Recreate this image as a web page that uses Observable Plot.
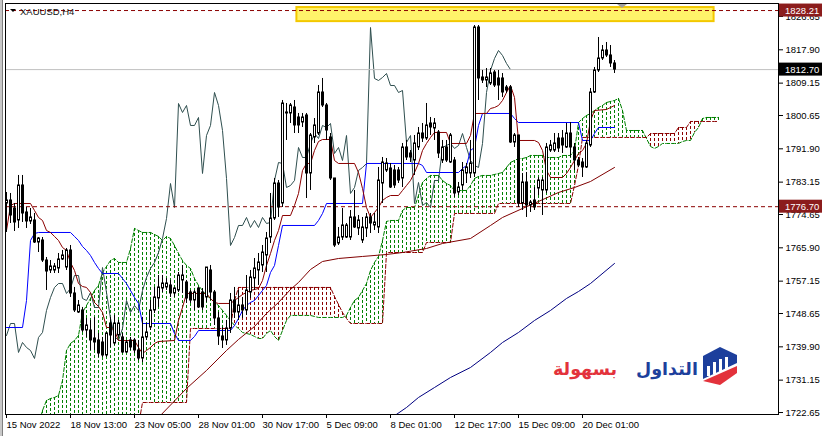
<!DOCTYPE html>
<html><head><meta charset="utf-8">
<script src="https://cdn.jsdelivr.net/npm/d3@7"></script>
<script src="https://cdn.jsdelivr.net/npm/@observablehq/plot@0.6"></script>
<style>
html,body{margin:0;padding:0;background:#fff;}
#wrap{position:relative;width:827px;height:436px;overflow:hidden;background:#fff;}
</style></head><body><div id="wrap"></div>
<script>
// ---- XAUUSD H4 candles (bar index 0..152) ----
const opens = [1777.54,1778.33,1776.23,1773.08,1782.27,1775.18,1772.82,1773.08,1767.30,1767.83,
1762.57,1759.95,1759.95,1760.47,1762.84,1760.73,1765.20,1753.91,1748.92,1749.45,
1744.19,1744.19,1742.09,1741.57,1741.04,1737.63,1746.03,1740.78,1742.88,1742.36,
1738.42,1741.57,1741.57,1738.94,1736.84,1742.36,1744.98,1749.45,1752.60,1755.22,
1755.49,1756.01,1753.91,1754.70,1757.32,1756.80,1754.17,1752.07,1755.22,1754.17,
1752.86,1759.95,1754.17,1747.35,1742.62,1741.57,1744.72,1752.07,1748.92,1750.76,
1749.45,1754.17,1757.85,1759.95,1761.26,1763.89,1768.61,1773.60,1782.79,1777.54,
1801.18,1801.18,1802.75,1800.13,1798.81,1800.65,1785.42,1794.88,1795.92,1806.69,
1803.28,1794.88,1784.11,1767.04,1768.61,1768.61,1768.61,1773.87,1770.98,1767.83,
1770.98,1773.87,1771.77,1771.24,1782.79,1786.21,1786.73,1786.21,1786.21,1784.11,
1792.25,1790.67,1788.83,1792.25,1795.92,1794.61,1798.55,1797.24,1796.19,1788.83,
1792.25,1788.31,1788.83,1780.43,1782.27,1785.42,1785.42,1785.42,1823.76,1810.63,
1809.84,1809.05,1811.94,1810.37,1810.37,1808.00,1808.00,1793.56,1795.40,1777.54,
1783.06,1777.02,1778.33,1781.48,1780.96,1780.96,1791.46,1791.46,1794.61,1794.61,
1792.25,1795.92,1792.25,1788.83,1788.31,1787.00,1792.77,1806.69,1812.47,1815.62,
1817.72,1816.41,1814.31];
const highs = [1780.43,1780.17,1777.54,1784.90,1784.90,1776.49,1776.23,1774.92,1768.61,1768.61,
1763.36,1762.57,1761.79,1764.41,1765.20,1765.72,1766.51,1755.49,1752.07,1750.24,
1747.35,1746.82,1747.61,1743.41,1742.36,1743.67,1747.61,1748.14,1746.82,1743.41,
1741.57,1742.36,1742.09,1741.57,1747.61,1746.03,1752.07,1755.49,1758.63,1758.63,
1757.85,1757.32,1755.49,1759.42,1761.26,1757.32,1754.70,1754.70,1755.49,1755.22,
1760.73,1761.26,1754.70,1748.92,1744.98,1746.82,1753.91,1755.49,1754.70,1752.86,
1758.63,1759.95,1763.10,1764.41,1766.51,1769.93,1780.17,1784.11,1783.58,1804.59,
1803.80,1803.80,1804.59,1801.18,1801.18,1801.18,1795.92,1799.86,1808.53,1810.37,
1803.80,1795.92,1784.11,1771.24,1776.23,1772.29,1775.70,1780.96,1774.39,1773.87,
1774.92,1774.92,1774.92,1787.00,1789.62,1789.36,1788.05,1787.52,1787.00,1793.30,
1794.09,1791.46,1795.40,1797.50,1798.55,1803.80,1800.13,1799.86,1796.71,1794.09,
1794.09,1795.92,1789.62,1783.06,1788.31,1788.05,1794.09,1824.28,1824.28,1812.47,
1812.99,1812.99,1812.47,1812.47,1811.68,1808.53,1808.53,1795.92,1795.40,1785.42,
1785.68,1778.33,1781.74,1784.37,1784.37,1793.30,1794.09,1795.92,1795.92,1796.71,
1798.55,1798.81,1793.30,1789.62,1789.36,1794.09,1807.74,1813.26,1821.13,1819.03,
1819.82,1819.03,1815.09];
const lows = [1769.93,1772.29,1770.19,1770.98,1772.55,1770.98,1772.03,1767.04,1764.67,1762.05,
1754.70,1759.16,1759.16,1759.16,1762.57,1759.95,1752.86,1748.92,1748.66,1743.67,
1742.36,1738.94,1738.94,1737.10,1737.10,1737.10,1739.73,1740.26,1742.36,1738.15,
1738.15,1738.94,1738.15,1736.31,1735.79,1741.57,1744.19,1748.66,1750.24,1754.17,
1754.70,1752.86,1752.86,1754.17,1753.91,1751.29,1751.29,1749.45,1749.97,1749.45,
1751.55,1752.07,1745.51,1740.26,1739.47,1740.26,1743.41,1747.35,1746.82,1747.35,
1748.14,1752.60,1754.70,1756.01,1759.42,1759.42,1767.04,1773.08,1773.87,1776.49,
1794.09,1798.55,1795.92,1795.92,1797.50,1778.85,1780.96,1793.30,1795.40,1802.75,
1794.09,1783.58,1765.99,1766.51,1767.83,1768.35,1767.83,1770.98,1769.14,1767.04,
1768.61,1769.66,1770.45,1769.66,1777.54,1785.68,1781.48,1781.48,1782.79,1781.74,
1788.83,1788.31,1784.90,1791.46,1793.56,1794.09,1795.40,1794.09,1789.36,1788.05,
1788.31,1788.05,1779.12,1779.64,1780.96,1782.79,1784.11,1784.37,1804.59,1809.05,
1808.00,1808.53,1808.00,1804.59,1805.38,1806.43,1793.30,1792.25,1776.49,1775.70,
1773.87,1775.18,1775.70,1779.64,1774.39,1780.17,1790.94,1790.94,1790.94,1790.67,
1791.99,1789.62,1786.21,1787.00,1784.37,1786.73,1792.25,1806.43,1811.94,1815.09,
1815.88,1813.26,1811.68];
const closes = [1778.33,1774.39,1772.55,1782.27,1774.92,1772.82,1773.87,1767.30,1768.35,1762.57,
1759.68,1761.00,1761.00,1762.84,1763.89,1765.20,1753.91,1749.45,1750.76,1744.19,
1745.51,1741.57,1741.04,1738.15,1737.63,1743.41,1742.88,1746.03,1746.03,1738.42,
1741.04,1739.73,1738.94,1736.84,1742.36,1743.67,1749.45,1752.86,1755.49,1756.53,
1756.53,1753.91,1755.22,1758.63,1758.63,1752.60,1752.07,1754.17,1750.24,1750.24,
1760.73,1754.17,1747.35,1742.62,1741.57,1744.72,1752.07,1748.92,1750.76,1749.45,
1754.70,1758.11,1760.47,1762.05,1764.67,1768.35,1773.60,1782.79,1776.49,1803.80,
1801.44,1803.28,1798.03,1798.03,1800.13,1785.42,1795.40,1798.03,1806.69,1803.28,
1796.71,1784.11,1766.51,1768.61,1771.77,1771.77,1773.87,1771.24,1773.08,1771.24,
1773.87,1772.29,1772.55,1783.58,1788.31,1788.05,1781.74,1782.27,1783.58,1792.25,
1789.62,1789.62,1793.30,1795.92,1794.61,1798.03,1797.50,1798.55,1790.67,1792.25,
1788.83,1795.40,1780.17,1781.74,1786.21,1787.00,1788.05,1823.76,1810.37,1809.84,
1810.63,1811.68,1808.53,1808.53,1806.69,1807.22,1793.56,1795.40,1777.54,1783.06,
1777.02,1777.80,1776.49,1783.58,1783.58,1792.25,1792.77,1793.30,1791.99,1792.77,
1795.92,1792.25,1788.83,1787.52,1787.00,1793.30,1806.69,1812.47,1815.62,1817.72,
1816.41,1814.31,1812.70];

// ---- Ichimoku: Senkou span A / B per bar (0..178, shifted 26 ahead) ----
const senkouA = [1719.24,1719.24,1719.24,1719.24,1719.24,1719.24,1719.24,1719.24,1719.24,1723.18,
1725.81,1726.33,1726.60,1727.12,1731.06,1738.94,1740.78,1741.57,1742.88,1748.92,
1750.76,1752.60,1754.70,1756.01,1759.42,1761.00,1762.57,1763.10,1762.05,1762.05,
1762.05,1765.72,1770.98,1770.45,1769.93,1769.93,1769.93,1769.40,1768.88,1767.83,
1768.88,1768.35,1766.51,1764.41,1762.57,1761.26,1760.47,1757.85,1756.01,1754.70,
1753.38,1752.60,1751.55,1750.76,1749.45,1748.14,1746.82,1745.51,1744.72,1743.67,
1743.41,1743.14,1742.62,1742.09,1742.09,1743.41,1744.19,1742.62,1741.57,1744.19,
1746.82,1748.14,1748.14,1748.14,1748.14,1748.14,1748.14,1747.87,1747.61,1747.61,
1747.61,1747.61,1747.61,1747.61,1747.61,1748.14,1750.24,1752.07,1752.86,1754.70,
1756.53,1759.95,1762.05,1763.63,1767.83,1772.82,1773.08,1773.08,1773.08,1775.70,
1776.49,1776.49,1776.49,1779.64,1783.06,1784.11,1784.90,1784.90,1784.90,1783.58,
1782.79,1782.27,1780.96,1780.96,1780.96,1780.96,1782.27,1784.11,1784.63,1784.90,
1784.90,1784.90,1785.16,1785.42,1785.68,1787.00,1788.31,1788.83,1789.36,1789.36,
1789.62,1790.15,1790.15,1790.15,1790.15,1789.62,1789.62,1789.62,1789.62,1790.15,
1790.15,1790.15,1791.46,1798.81,1799.86,1800.65,1801.18,1801.96,1802.75,1803.28,
1804.06,1804.33,1804.59,1805.12,1801.96,1796.71,1796.71,1796.71,1796.71,1796.71,
1794.61,1792.51,1791.99,1792.51,1793.30,1793.30,1793.30,1793.30,1793.30,1793.82,
1794.09,1794.09,1796.19,1797.50,1799.86,1800.13,1800.13,1800.13,1800.13];
const senkouB = [1719.24,1719.24,1719.24,1719.24,1719.24,1719.24,1719.24,1719.24,1719.24,1719.24,
1719.24,1719.24,1719.24,1719.24,1719.24,1719.24,1719.24,1719.24,1719.24,1719.24,
1719.24,1719.24,1719.24,1719.24,1719.24,1719.24,1719.24,1719.24,1719.24,1719.24,
1719.24,1719.24,1719.24,1719.24,1725.28,1725.28,1725.28,1725.28,1725.28,1725.28,
1725.28,1725.28,1725.28,1725.28,1725.28,1725.28,1744.72,1744.72,1744.72,1744.72,
1744.72,1744.72,1744.72,1744.72,1744.72,1744.72,1744.72,1752.07,1755.49,1755.49,
1755.49,1755.49,1755.49,1755.49,1755.49,1755.49,1755.49,1755.49,1755.49,1755.49,
1755.49,1755.49,1755.49,1755.49,1755.49,1755.49,1755.49,1755.49,1755.49,1755.49,
1755.49,1755.49,1753.12,1751.02,1748.92,1747.35,1746.03,1746.03,1746.03,1746.03,
1746.03,1746.03,1746.03,1746.03,1746.03,1764.67,1764.67,1764.67,1764.67,1764.67,
1764.67,1764.67,1764.67,1764.67,1764.67,1767.30,1767.30,1767.30,1767.30,1767.30,
1767.30,1767.30,1774.92,1774.92,1774.92,1774.92,1774.92,1774.92,1774.92,1774.92,
1774.92,1774.92,1774.92,1777.54,1777.54,1777.54,1777.54,1777.54,1777.54,1777.54,
1777.54,1777.54,1777.54,1777.54,1777.54,1777.54,1777.54,1777.54,1777.54,1777.54,
1777.54,1777.54,1782.27,1787.52,1794.88,1794.88,1794.88,1794.88,1794.88,1794.88,
1794.88,1794.88,1794.88,1794.88,1794.88,1794.88,1794.88,1794.88,1794.88,1794.88,
1794.88,1795.92,1795.92,1795.92,1795.92,1795.92,1795.92,1795.92,1797.50,1797.50,
1797.50,1799.08,1799.08,1799.08,1799.08,1799.08,1799.08,1799.08,1799.08];

// ---- Tenkan-sen / Kijun-sen (bar index, price) ----
const tenkanAt  = [0,1,2,6,7,8,9,10,11,12,13,14,15,16,17,18,19,20,21,22,23,24,25,26,27,28,32,33,34,35,36,37,38,42,43,44,45,50,51,52,53,56,57,58,59,60,61,62,63,64,65,66,67,68,69,71,72,73,74,75,76,77,78,79,81,82,83,87,88,89,90,91,92,93,94,95,96,98,99,100,101,102,103,104,105,106,107,110,111,115,116,117,120,121,122,123,124,125,126,127,128,132,133,134,135,136,139,140,141,142,143,144,145,146,147,150,151,152];
const tenkanVal = [1770.45,1777.02,1777.54,1777.54,1775.70,1773.87,1773.08,1770.45,1769.93,1768.88,1767.83,1765.99,1765.20,1762.05,1759.95,1756.53,1755.75,1755.49,1754.17,1751.55,1750.49,1748.92,1744.98,1744.98,1744.19,1741.57,1741.57,1739.73,1738.15,1738.94,1739.73,1740.78,1741.30,1741.57,1746.82,1750.24,1753.91,1753.91,1752.60,1751.55,1751.29,1751.29,1752.07,1752.86,1753.65,1754.17,1754.70,1754.96,1755.22,1757.32,1761.26,1764.41,1767.83,1770.45,1774.39,1774.39,1777.02,1780.17,1786.21,1788.05,1788.05,1791.46,1793.82,1794.35,1794.35,1788.83,1788.05,1788.05,1785.68,1781.48,1776.49,1773.87,1775.18,1776.49,1778.33,1779.12,1779.64,1779.64,1780.96,1782.27,1783.58,1785.68,1788.05,1791.46,1793.30,1794.88,1796.19,1796.19,1793.30,1793.30,1795.40,1801.18,1801.18,1802.49,1802.75,1803.28,1804.59,1806.69,1808.53,1805.38,1794.09,1794.09,1793.56,1791.46,1786.21,1784.37,1784.37,1785.42,1787.00,1788.83,1790.67,1791.46,1793.30,1799.34,1801.96,1802.23,1802.75,1803.28];
const kijunAt  = [0,4,5,6,7,8,16,17,18,19,20,21,22,23,24,28,29,30,31,32,33,34,41,42,43,46,47,48,56,57,58,59,60,61,62,63,64,65,66,67,68,69,77,78,79,80,89,90,103,104,105,113,114,115,116,117,118,119,126,127,128,143,144,146,147,148,152];
const kijunVal = [1744.98,1744.98,1752.07,1767.83,1769.66,1769.93,1769.93,1768.88,1767.83,1766.25,1765.20,1763.89,1762.05,1760.47,1759.16,1759.16,1757.85,1756.53,1754.70,1752.86,1751.29,1746.03,1746.03,1743.41,1741.57,1741.57,1742.62,1744.19,1744.19,1745.51,1747.35,1749.45,1750.76,1751.55,1752.07,1753.38,1754.70,1756.01,1759.42,1761.26,1766.51,1771.77,1771.77,1773.08,1774.92,1777.54,1777.54,1788.05,1788.05,1787.52,1785.68,1785.68,1786.73,1787.52,1791.46,1792.25,1798.03,1801.18,1801.18,1799.86,1798.81,1798.81,1794.09,1794.09,1795.92,1797.50,1797.50];

// ---- Moving averages (bar index, price) ----
const maSlowAt  = [36,38,45,50,55,58,62,65,68,71,73,76,79,83,89,95,99,105,109,116,121,124,129,133,138,142,146,152];
const maSlowVal = [1718.46,1721.35,1728.96,1733.69,1738.94,1741.83,1745.24,1748.66,1751.55,1754.96,1756.80,1760.21,1762.31,1763.10,1763.63,1764.15,1764.67,1765.72,1767.04,1768.35,1771.77,1773.87,1776.23,1778.07,1780.43,1781.74,1783.32,1787.00];
const maNavyAt  = [96,100,103,107,111,116,121,124,128,132,136,140,143,146,152];
const maNavyVal = [1721.08,1723.97,1726.60,1729.22,1731.85,1734.48,1738.42,1741.04,1743.67,1746.82,1749.45,1752.60,1754.43,1756.53,1761.79];

// ---- Price levels, box, axes ----
const levelRed = [1828.21, 1776.70];
const levelBid = [1812.70];
const rectBox = [{x1: 72.6, x2: 176.9, y1: 1825.3, y2: 1829.0}];
const yTicks = [1826.65,1817.90,1809.15,1800.65,1791.90,1783.15,1774.65,1765.90,1757.15,1748.65,1739.90,1731.15,1722.65];
const xTickAt = [0,16,32,48,64,80,96,112,128,144];
const xLabels = ["15 Nov 2022","18 Nov 13:00","23 Nov 05:00","28 Nov 01:00","30 Nov 17:00","5 Dec 09:00","8 Dec 01:00","12 Dec 17:00","15 Dec 09:00","20 Dec 01:00"];
const priceTags = [{v:1828.21, bg:"#8b1c1c"},{v:1812.70, bg:"#000000"},{v:1776.70, bg:"#8b1c1c"}];
const SHIFT = 26;

// ---- build tables ----
const bars = opens.map((o, i) => ({i, o, h: highs[i], l: lows[i], c: closes[i]}));
const upBars = bars.filter(d => d.c >= d.o), dnBars = bars.filter(d => d.c < d.o);
const cloud = senkouA.map((a, i) => ({i, a, b: senkouB[i]}));
const chikou = closes.slice(SHIFT).map((c, i) => ({i, v: c}));
const pts = (at, val) => at.map((i, k) => ({i, v: val[k]}));

const GREEN = "#008000", RED = "#8b0000";
const FONT = "'Liberation Sans', Arial, sans-serif";
const chart = Plot.plot({
  width: 827, height: 436,
  marginLeft: 5, marginRight: 49, marginTop: 3, marginBottom: 22,
  x: {domain: [-0.25, 193.0], axis: null},
  y: {domain: [1722.13, 1830.06], axis: null},
  style: {fontFamily: FONT, fontSize: "9.5px", background: "#fff", color: "#000", overflow: "visible"},
  marks: [
    Plot.rect(rectBox, {x1: "x1", x2: "x2", y1: "y1", y2: "y2", fill: "#fff36a", stroke: "#f3c800", strokeWidth: 2}),
    Plot.ruleX(cloud.filter(d => d.a >= d.b), {x: "i", y1: "a", y2: "b", stroke: GREEN, strokeWidth: 1, strokeDasharray: "3,2", clip: true}),
    Plot.ruleX(cloud.filter(d => d.a < d.b), {x: "i", y1: "b", y2: "a", stroke: RED, strokeWidth: 1, strokeDasharray: "3,2", clip: true}),
    Plot.line(cloud, {x: "i", y: "a", stroke: GREEN, strokeWidth: 1, strokeDasharray: "4,2", clip: true}),
    Plot.line(cloud, {x: "i", y: "b", stroke: RED, strokeWidth: 1, strokeDasharray: "4,2", clip: true}),
    Plot.line(pts(maSlowAt, maSlowVal), {x: "i", y: "v", stroke: "#800000", strokeWidth: 1, clip: true}),
    Plot.line(pts(maNavyAt, maNavyVal), {x: "i", y: "v", stroke: "#000080", strokeWidth: 1, clip: true}),
    Plot.line(chikou, {x: "i", y: "v", stroke: "#2f4f4f", strokeWidth: 1}),
    Plot.line(pts(kijunAt, kijunVal), {x: "i", y: "v", stroke: "#0000ff", strokeWidth: 1}),
    Plot.line(pts(tenkanAt, tenkanVal), {x: "i", y: "v", stroke: "#8b0000", strokeWidth: 1}),
    Plot.ruleY(levelBid, {stroke: "#c0c0c0"}),
    Plot.ruleY(levelRed, {stroke: "#8b0000", strokeDasharray: "4,3"}),
    Plot.ruleX(bars, {x: "i", y1: "l", y2: "h", stroke: "#000"}),
    Plot.rect(upBars, {x1: d => d.i - 0.25, x2: d => d.i + 0.25, y1: "o", y2: "c", dx: 0.5, fill: "#fff", stroke: "#000", strokeWidth: 1}),
    Plot.rect(dnBars, {x1: d => d.i - 0.25, x2: d => d.i + 0.25, y1: "o", y2: "c", dx: 0.5, fill: "#000", stroke: "#000", strokeWidth: 1}),
    Plot.frame({stroke: "#000"}),
    Plot.axisY({anchor: "right", ticks: yTicks, tickFormat: d => d.toFixed(2), tickSize: 4, tickPadding: 3, fontSize: 9.5}),
    Plot.axisX({anchor: "bottom", ticks: xTickAt, tickFormat: d => xLabels[xTickAt.indexOf(d)], tickSize: 4, tickPadding: 3, textAnchor: "start", fontSize: 9.5})
  ]
});
document.getElementById("wrap").appendChild(chart);

// ---- decorations via the chart's own scales ----
const svg = d3.select(chart);
const ys = chart.scale("y");
svg.insert("rect", ":first-child").attr("x", 0).attr("y", 0).attr("width", 827).attr("height", 436).attr("fill", "#fff");
svg.append("rect").attr("x", 0).attr("y", 0).attr("width", 2).attr("height", 436).attr("fill", "#c8c8c8");
svg.append("rect").attr("x", 2).attr("y", 0).attr("width", 1).attr("height", 436).attr("fill", "#808080");
priceTags.forEach(t => {
  const py = ys.apply(t.v);
  svg.append("rect").attr("x", 779).attr("y", py - 6.5).attr("width", 43).attr("height", 13).attr("fill", t.bg);
  svg.append("text").attr("x", 785).attr("y", py + 3.5).attr("fill", "#fff").attr("text-anchor", "start")
    .attr("font-family", FONT).attr("font-size", 9.5).text(t.v.toFixed(2));
});
// header
svg.append("path").attr("d", "M10,9 L16,9 L13,12 Z").attr("fill", "#000");
svg.append("text").attr("x", 20).attr("y", 15).attr("fill", "#111").attr("text-anchor", "start")
  .attr("font-family", FONT).attr("font-size", 9.5).text("XAUUSD,H4");
svg.append("path").attr("d", "M617,4 L627,4 L622,8 Z").attr("fill", "#a0a0a0");
// logo
const lg = svg.append("g");
lg.append("text").attr("x", 585).attr("y", 375).attr("text-anchor", "middle")
  .attr("font-family", "'DejaVu Sans', sans-serif").attr("font-weight", "bold").attr("font-size", 17.5)
  .attr("fill", "#e3323b").text("بسهولة");
lg.append("text").attr("x", 667).attr("y", 375).attr("text-anchor", "middle")
  .attr("font-family", "'DejaVu Sans', sans-serif").attr("font-weight", "bold").attr("font-size", 17.5)
  .attr("fill", "#1d3f9c").text("التداول");
lg.append("path").attr("d", "M703,356 L720,347 L737,355 L737,363 L703,379 Z").attr("fill", "#1d3f9c");
lg.append("path").attr("d", "M703,381 L737,366 L737,373 L720,385 Z").attr("fill", "#e3323b");
[[707,366,4,10],[713,362,4,12],[719,359,4,13],[725,357,4,12]].forEach(b =>
  lg.append("rect").attr("x", b[0]).attr("y", b[1]).attr("width", b[2] - 1).attr("height", b[3]).attr("fill", "#fff"));
</script></body></html>
